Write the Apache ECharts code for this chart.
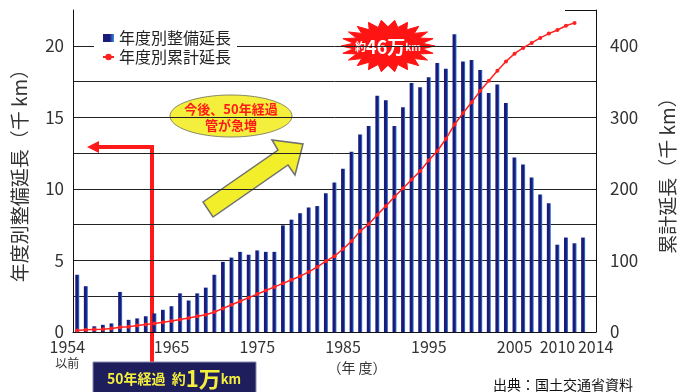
<!DOCTYPE html>
<html lang="ja">
<head>
<meta charset="UTF-8">
<title>管路の年度別整備延長</title>
<script src="https://cdn.jsdelivr.net/npm/echarts@6/dist/echarts.min.js"></script>
<style>
html, body { margin: 0; padding: 0; background: #fff; }
#main { width: 688px; height: 392px; }
</style>
</head>
<body>
<div id="main"></div>
<script>
// 年度（先頭は「1954以前」）
var years = ['1954', '1955', '1956', '1957', '1958', '1959', '1960', '1961', '1962', '1963',
    '1964', '1965', '1966', '1967', '1968', '1969', '1970', '1971', '1972', '1973',
    '1974', '1975', '1976', '1977', '1978', '1979', '1980', '1981', '1982', '1983',
    '1984', '1985', '1986', '1987', '1988', '1989', '1990', '1991', '1992', '1993',
    '1994', '1995', '1996', '1997', '1998', '1999', '2000', '2001', '2002', '2003',
    '2004', '2005', '2006', '2007', '2008', '2009', '2010', '2011', '2012', '2013',
    '2014'];
// 年度別整備延長（千km）
var yearLength = [4.0, 3.2, 0.4, 0.5, 0.6, 2.8, 0.85, 0.95, 1.1, 1.3,
    1.55, 1.8, 2.7, 2.2, 2.7, 3.1, 4.0, 4.9, 5.2, 5.6,
    5.4, 5.7, 5.6, 5.6, 7.45, 7.85, 8.3, 8.7, 8.8, 9.7,
    10.45, 11.4, 12.6, 13.8, 14.4, 16.5, 16.2, 14.4, 15.7, 17.4,
    17.1, 17.8, 18.8, 18.4, 20.8, 18.9, 19.0, 18.3, 16.7, 17.3,
    16.0, 12.2, 11.7, 10.8, 9.6, 9.0, 6.1, 6.6, 6.2, 6.6,
    null];
// 年度別累計延長（千km）
var totalLength = [2, 3, 3.5, 4, 5, 6.5, 7.5, 9, 10.5, 12,
    13.5, 15.5, 17.5, 19.5, 22, 24, 28, 33, 38, 43,
    48, 53, 58, 63, 68, 73, 78, 84, 91, 99,
    106, 116, 127, 141, 151, 164, 176, 189, 201, 213,
    225, 240, 253, 270, 290, 306, 321, 337, 351, 365,
    378, 389, 397, 404, 411, 417, 422, 428, 432];
// 目盛を付ける年度
var labelYears = ['1954', '1965', '1975', '1985', '1995', '2005', '2010'];
var endYears = ['2014'];

var FONT = '"Noto Sans CJK JP", "Noto Sans", sans-serif';

// 吹き出しのギザギザ
function burst(cx, cy, rx, ry, n, k) {
    var pts = [];
    for (var i = 0; i < n * 2; i++) {
        var a = Math.PI * i / n;
        var f = (i % 2 === 0) ? 1 : k;
        pts.push([cx + Math.cos(a) * rx * f, cy + Math.sin(a) * ry * f]);
    }
    return pts;
}

function pick(list) {
    return function (index, value) { return list.indexOf(value) >= 0; };
}

var labelRich = {
    y: { fontSize: 16, lineHeight: 18, color: '#333', width: 30, align: 'center' },
    f: { fontSize: 16, lineHeight: 18, color: '#333', width: 30, align: 'center', padding: [0, 20, 0, 0] },
    s: { fontSize: 12, lineHeight: 14, color: '#333', width: 30, align: 'center', padding: [0, 20, 0, 0] },
    e: { fontSize: 16, lineHeight: 18, color: '#333', width: 30, align: 'center', padding: [0, 0, 0, 8] }
};

var myChart = echarts.init(document.getElementById('main'));

var option = {
    animation: false,
    backgroundColor: '#fff',
    textStyle: { fontFamily: FONT },
    grid: { left: 73, right: 92, top: 10, bottom: 60 },
    legend: {
        orient: 'vertical',
        left: 94,
        top: 27,
        padding: [3, 6, 3, 8],
        itemGap: 3,
        itemWidth: 11,
        itemHeight: 8,
        backgroundColor: '#fff',
        textStyle: { fontSize: 16, color: '#222', fontFamily: FONT },
        data: [{ name: '年度別整備延長', icon: 'rect' }, { name: '年度別累計延長' }]
    },
    xAxis: [{
        type: 'category',
        data: years,
        axisLine: { lineStyle: { color: '#111', width: 1 } },
        axisTick: {
            alignWithLabel: true,
            length: 5,
            lineStyle: { color: '#111' },
            interval: pick(labelYears)
        },
        axisLabel: {
            interval: pick(labelYears),
            hideOverlap: false,
            margin: 6,
            fontSize: 16,
            color: '#333',
            formatter: function (v) {
                return v === '1954' ? '{f|1954}\n{s|以前}' : '{y|' + v + '}';
            },
            rich: labelRich
        }
    }, {
        // 右端の「2014」だけを描く軸
        type: 'category',
        data: years,
        position: 'bottom',
        axisLine: { show: false },
        axisTick: {
            alignWithLabel: true,
            length: 5,
            lineStyle: { color: '#111' },
            interval: pick(endYears)
        },
        axisLabel: {
            interval: pick(endYears),
            showMaxLabel: true,
            margin: 6,
            fontSize: 16,
            color: '#333',
            formatter: function (v) { return '{e|' + v + '}'; },
            rich: labelRich
        },
        splitLine: { show: false }
    }],
    yAxis: [{
        type: 'value',
        min: 0,
        max: 22.5,
        interval: 2.5,
        name: '年度別整備延長（千 km）',
        nameLocation: 'middle',
        nameGap: 44,
        nameTextStyle: { fontSize: 19, color: '#333' },
        axisLine: { show: true, lineStyle: { color: '#111' } },
        axisTick: { show: false },
        axisLabel: {
            fontSize: 17,
            color: '#333',
            margin: 9,
            formatter: function (v) { return v % 5 === 0 ? v : ''; }
        },
        splitLine: { show: true, showMaxLine: false, lineStyle: { color: '#222', width: 1 } }
    }, {
        type: 'value',
        min: 0,
        max: 450,
        interval: 50,
        name: '累計延長（千 km）',
        nameLocation: 'middle',
        nameGap: 62,
        nameTextStyle: { fontSize: 19, color: '#333' },
        axisLine: { show: true, lineStyle: { color: '#111' } },
        axisTick: { show: false },
        axisLabel: {
            fontSize: 17,
            color: '#333',
            margin: 14,
            formatter: function (v) { return v % 100 === 0 ? v : ''; }
        },
        splitLine: { show: false }
    }],
    series: [{
        name: '年度別整備延長',
        type: 'bar',
        data: yearLength,
        barWidth: 4,
        itemStyle: {
            color: new echarts.graphic.LinearGradient(0, 0, 1, 0, [
                { offset: 0, color: '#1a1a78' },
                { offset: 0.6, color: '#1a1a78' },
                { offset: 1, color: '#3d8fe8' }
            ])
        }
    }, {
        name: '年度別累計延長',
        type: 'line',
        yAxisIndex: 1,
        data: totalLength,
        symbol: 'circle',
        symbolSize: 4,
        z: 3,
        itemStyle: { color: '#ff2020' },
        lineStyle: { color: '#ff2020', width: 1.5 }
    }],
    graphic: [
        // 右上の枠線
        { type: 'line', shape: { x1: 565, y1: 10.5, x2: 596, y2: 10.5 }, style: { stroke: '#111', lineWidth: 1 } },
        // 吹き出し（楕円）
        {
            type: 'ellipse',
            shape: { cx: 231, cy: 116, rx: 61, ry: 21 },
            style: { fill: '#f4ef3c', stroke: '#8a8a60', lineWidth: 1 }
        },
        {
            type: 'text',
            x: 231, y: 117,
            style: {
                text: '今後、50年経過\n管が急増',
                fill: '#ff1a1a',
                font: 'bold 13px ' + FONT,
                lineHeight: 16,
                align: 'center',
                verticalAlign: 'middle'
            }
        },
        // 黄色の矢印
        {
            type: 'polygon',
            shape: {
                points: [[203, 202], [278, 150], [272, 140], [303, 144], [295, 175], [288, 165], [213, 217]]
            },
            style: { fill: '#f2ee2a', stroke: '#6f6f6f', lineWidth: 1.5 }
        },
        // 約46万km
        {
            type: 'polygon',
            shape: { points: burst(388, 46, 47, 26, 22, 0.74) },
            style: { fill: '#ff1414', stroke: '#ff1414', lineWidth: 1 }
        },
        {
            type: 'text',
            x: 388, y: 47,
            style: {
                text: '{a|約}{b|46万}{c|km}',
                align: 'center',
                verticalAlign: 'middle',
                rich: {
                    a: { fill: '#fff', font: 'bold 11px ' + FONT },
                    b: { fill: '#fff', font: 'bold 18px ' + FONT },
                    c: { fill: '#fff', font: 'bold 10px ' + FONT }
                }
            }
        },
        // 50年経過の赤線
        {
            type: 'polyline',
            shape: { points: [[97, 147], [152, 147], [152, 362]] },
            style: { stroke: '#ff1a1a', lineWidth: 4, fill: null }
        },
        {
            type: 'polygon',
            shape: { points: [[87, 147], [99, 141], [99, 153]] },
            style: { fill: '#ff1a1a' }
        },
        {
            type: 'rect',
            shape: { x: 93, y: 362, width: 163, height: 34 },
            style: { fill: '#1e1e5c', stroke: '#8a8ab0', lineWidth: 1 }
        },
        {
            type: 'text',
            x: 174, y: 379,
            style: {
                text: '{a|50年経過  約}{b|1万}{c|km}',
                align: 'center',
                verticalAlign: 'middle',
                rich: {
                    a: { fill: '#f4ef3c', font: 'bold 14px ' + FONT },
                    b: { fill: '#f4ef3c', font: 'bold 22px ' + FONT },
                    c: { fill: '#f4ef3c', font: 'bold 13px ' + FONT }
                }
            }
        },
        {
            type: 'text',
            x: 357, y: 368,
            style: { text: '（年 度）', fill: '#333', font: '14px ' + FONT, align: 'center', verticalAlign: 'middle' }
        },
        {
            type: 'text',
            x: 563, y: 385,
            style: { text: '出典：国土交通省資料', fill: '#111', font: '14px ' + FONT, align: 'center', verticalAlign: 'middle' }
        }
    ]
};

myChart.setOption(option);
</script>
</body>
</html>
